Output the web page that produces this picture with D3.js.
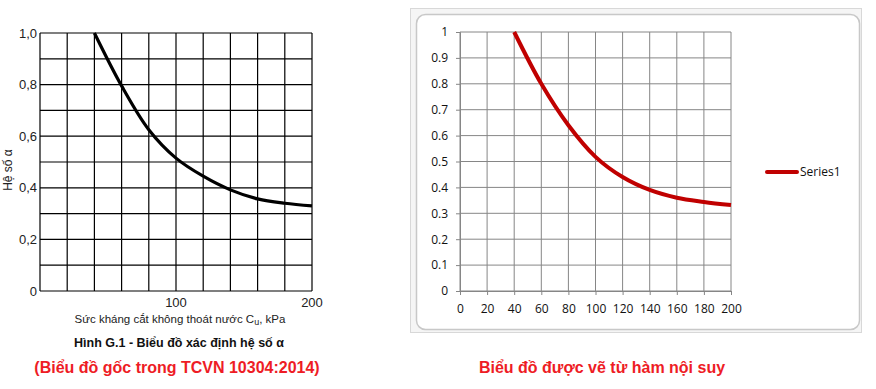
<!DOCTYPE html>
<html>
<head>
<meta charset="utf-8">
<script src="https://cdn.jsdelivr.net/npm/d3@7"></script>
<style>
  body { margin: 0; background: #fff; }
  svg { display: block; }
</style>
</head>
<body>
<svg width="876" height="389"></svg>
<script>
// Cu (kPa)
const cuValues = [40, 60, 80, 100, 120, 140, 160, 180, 200];
// hệ số alpha
const alphaOriginal = [1.0, 0.795, 0.625, 0.515, 0.445, 0.392, 0.357, 0.34, 0.33];
// hệ số alpha, biểu đồ nội suy (Excel)
const alphaInterp = [1.0, 0.80, 0.64, 0.518, 0.44, 0.39, 0.36, 0.344, 0.332];

const leftYTicks = [0, 0.2, 0.4, 0.6, 0.8, 1.0];
const leftYLabels = ["0", "0,2", "0,4", "0,6", "0,8", "1,0"];
const leftXTicks = [100, 200];
const rightYTicks = [0, 0.1, 0.2, 0.3, 0.4, 0.5, 0.6, 0.7, 0.8, 0.9, 1];
const rightXTicks = [0, 20, 40, 60, 80, 100, 120, 140, 160, 180, 200];
const gridX = d3.range(0, 201, 20);
const gridY = d3.range(0, 11).map(d => d / 10);

const svg = d3.select("svg");

// ---------- biểu đồ gốc (trái) ----------
const xL = d3.scaleLinear().domain([0, 200]).range([40, 312]);
const yL = d3.scaleLinear().domain([0, 1]).range([291, 33]);

const gL = svg.append("g");

gL.append("g").selectAll("line.v")
    .data(gridX)
    .enter().append("line")
    .attr("x1", d => xL(d)).attr("x2", d => xL(d))
    .attr("y1", yL(0)).attr("y2", yL(1))
    .attr("stroke", "#000").attr("stroke-width", 1.2);

gL.append("g").selectAll("line.h")
    .data(gridY)
    .enter().append("line")
    .attr("x1", xL(0)).attr("x2", xL(200))
    .attr("y1", d => yL(d)).attr("y2", d => yL(d))
    .attr("stroke", "#000").attr("stroke-width", 1.2);

gL.append("g").selectAll("text")
    .data(leftYTicks)
    .enter().append("text")
    .attr("x", 37)
    .attr("y", d => yL(d))
    .attr("dy", "0.35em")
    .attr("text-anchor", "end")
    .attr("font-family", "Liberation Sans, Arial, sans-serif")
    .attr("font-size", 13)
    .attr("fill", "#222")
    .text((d, i) => leftYLabels[i]);

gL.append("g").selectAll("text")
    .data(leftXTicks)
    .enter().append("text")
    .attr("x", d => xL(d))
    .attr("y", 307)
    .attr("text-anchor", "middle")
    .attr("font-family", "Liberation Sans, Arial, sans-serif")
    .attr("font-size", 13)
    .attr("fill", "#222")
    .text(d => d);

gL.append("text")
    .attr("transform", "translate(12,170) rotate(-90)")
    .attr("text-anchor", "middle")
    .attr("font-family", "Liberation Sans, Arial, sans-serif")
    .attr("font-size", 12)
    .attr("fill", "#222")
    .text("Hệ số α");

const xTitle = gL.append("text")
    .attr("x", 180).attr("y", 323)
    .attr("text-anchor", "middle")
    .attr("font-family", "Liberation Sans, Arial, sans-serif")
    .attr("font-size", 11.5)
    .attr("fill", "#222");
xTitle.append("tspan").text("Sức kháng cắt không thoát nước C");
xTitle.append("tspan").attr("font-size", 9).attr("dy", 2).text("u");
xTitle.append("tspan").attr("dy", -2).text(", kPa");

gL.append("text")
    .attr("x", 179).attr("y", 347)
    .attr("text-anchor", "middle")
    .attr("font-family", "Liberation Sans, Arial, sans-serif")
    .attr("font-size", 12.5)
    .attr("font-weight", "bold")
    .attr("fill", "#111")
    .text("Hình G.1 - Biểu đồ xác định hệ số α");

gL.append("text")
    .attr("x", 177).attr("y", 373)
    .attr("text-anchor", "middle")
    .attr("font-family", "Liberation Sans, Arial, sans-serif")
    .attr("font-size", 16)
    .attr("font-weight", "bold")
    .attr("fill", "#ee1c25")
    .text("(Biểu đồ gốc trong TCVN 10304:2014)");

const lineL = d3.line()
    .x((d, i) => xL(cuValues[i]))
    .y(d => yL(d))
    .curve(d3.curveCatmullRom.alpha(0.5));

gL.append("path")
    .datum(alphaOriginal)
    .attr("d", lineL)
    .attr("fill", "none")
    .attr("stroke", "#000")
    .attr("stroke-width", 3.2);

// ---------- biểu đồ nội suy (phải, kiểu Excel) ----------
const gR = svg.append("g");

// khung cửa sổ
gR.append("rect")
    .attr("x", 410.5).attr("y", 8.5).attr("width", 451).attr("height", 324)
    .attr("fill", "#f5f5f5").attr("stroke", "#d8d8d8");
gR.append("rect")
    .attr("x", 416.5).attr("y", 14.5).attr("width", 443).attr("height", 315)
    .attr("rx", 9).attr("ry", 9)
    .attr("fill", "#fff").attr("stroke", "#c8c8c8").attr("stroke-width", 1.5);

const xR = d3.scaleLinear().domain([0, 200]).range([460, 731]);
const yR = d3.scaleLinear().domain([0, 1]).range([291, 32]);

gR.append("g").selectAll("line")
    .data(gridX)
    .enter().append("line")
    .attr("x1", d => xR(d)).attr("x2", d => xR(d))
    .attr("y1", yR(0)).attr("y2", yR(1))
    .attr("stroke", "#868686").attr("stroke-width", 1);

gR.append("g").selectAll("line")
    .data(gridY)
    .enter().append("line")
    .attr("x1", xR(0)).attr("x2", xR(200))
    .attr("y1", d => yR(d)).attr("y2", d => yR(d))
    .attr("stroke", "#868686").attr("stroke-width", 1);

const axisFont = "Open Sans, Liberation Sans, sans-serif";

gR.append("g")
    .attr("transform", "translate(0," + yR(0) + ")")
    .call(d3.axisBottom(xR).tickValues(rightXTicks).tickSize(4).tickPadding(9))
    .call(g => g.select(".domain").attr("stroke", "#868686"))
    .call(g => g.selectAll(".tick line").attr("stroke", "#868686"))
    .call(g => g.selectAll("text")
        .attr("font-family", axisFont).attr("font-size", 12).attr("fill", "#111"));

gR.append("g")
    .attr("transform", "translate(" + xR(0) + ",0)")
    .call(d3.axisLeft(yR).tickValues(rightYTicks).tickSize(4).tickPadding(8)
        .tickFormat(d => d === 0 || d === 1 ? String(d) : d3.format(".1f")(d)))
    .call(g => g.select(".domain").attr("stroke", "#868686"))
    .call(g => g.selectAll(".tick line").attr("stroke", "#868686"))
    .call(g => g.selectAll("text")
        .attr("font-family", axisFont).attr("font-size", 12).attr("fill", "#111"));

const lineR = d3.line()
    .x((d, i) => xR(cuValues[i]))
    .y(d => yR(d))
    .curve(d3.curveCatmullRom.alpha(0.5));

gR.append("path")
    .datum(alphaInterp)
    .attr("d", lineR)
    .attr("fill", "none")
    .attr("stroke", "#c00000")
    .attr("stroke-width", 4);

// chú giải
gR.append("line")
    .attr("x1", 767).attr("x2", 797).attr("y1", 172).attr("y2", 172)
    .attr("stroke", "#c00000").attr("stroke-width", 4).attr("stroke-linecap", "round");
gR.append("text")
    .attr("x", 800).attr("y", 172).attr("dy", "0.35em")
    .attr("font-family", axisFont).attr("font-size", 12).attr("fill", "#111")
    .text("Series1");

gR.append("text")
    .attr("x", 602).attr("y", 373)
    .attr("text-anchor", "middle")
    .attr("font-family", "Liberation Sans, Arial, sans-serif")
    .attr("font-size", 16)
    .attr("font-weight", "bold")
    .attr("fill", "#ee1c25")
    .text("Biểu đồ được vẽ từ hàm nội suy");
</script>
</body>
</html>
